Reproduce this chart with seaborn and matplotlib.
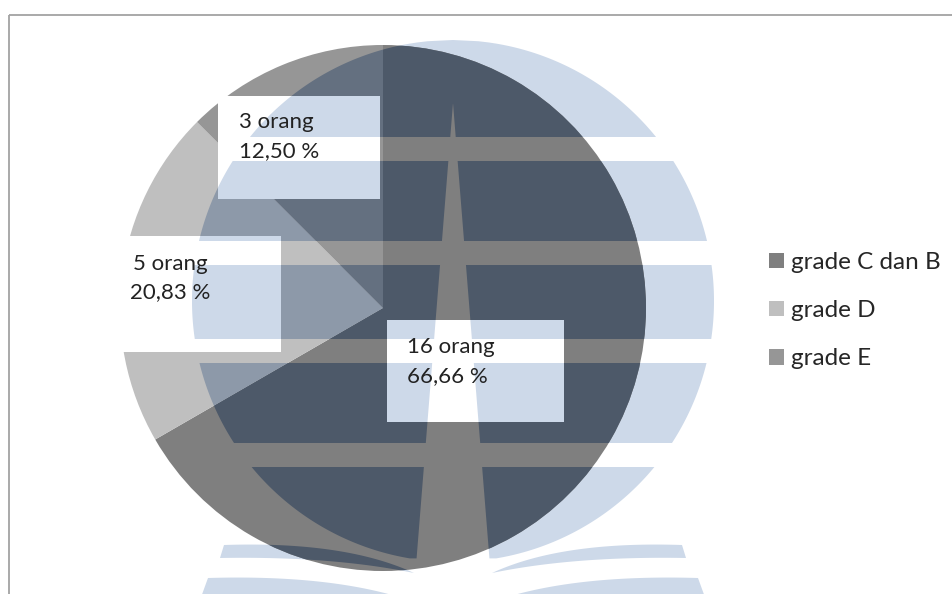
import numpy as np
import matplotlib
matplotlib.use("Agg")
import matplotlib.pyplot as plt
from matplotlib.patches import Polygon, Rectangle
import seaborn as sns

# ---- data -------------------------------------------------------------
grades = ["grade C dan B", "grade D", "grade E"]
persons = [16, 5, 3]
percent = [66.66, 20.83, 12.50]
slice_colors = ["#7f7f7f", "#bfbfbf", "#969696"]

# ---- canvas (pixel-based coordinates, y grows downward) --------------
W, H = 952, 594
sns.set_theme(style="white")
plt.rcParams["font.family"] = ["Lato", "DejaVu Sans"]
palette = sns.color_palette(slice_colors)

fig = plt.figure(figsize=(W / 100, H / 100), dpi=100)
ax = fig.add_axes([0, 0, 1, 1])

# pie, starting at 12 o'clock and running clockwise on screen
wedges, _ = ax.pie(percent, colors=palette, startangle=-90, counterclock=True,
                   center=(383, 308), radius=263,
                   wedgeprops=dict(linewidth=0, zorder=2))
ax.set_xlim(0, W)
ax.set_ylim(H, 0)
ax.set_axis_off()

# chart-area frame
ax.plot([9, 9], [H, 15], color="#a3a3a3", lw=1.3, zorder=0.5, solid_capstyle="butt")
ax.plot([9, W], [15, 15], color="#a3a3a3", lw=1.3, zorder=0.5, solid_capstyle="butt")

# ---- background emblem (globe with bands, spire and open book) --------
EMB_CX, EMB_CY, EMB_R = 453, 301, 261
APEX_Y, SPIRE_K = 103, 0.08
band_rows = [(EMB_CY - EMB_R, 137), (161, 241), (265, 339), (363, 443), (467, EMB_CY + EMB_R)]


def band_polys(y0, y1):
    ys = np.linspace(y0, y1, 80)
    half = np.sqrt(np.clip(EMB_R ** 2 - (ys - EMB_CY) ** 2, 0, None))
    xl, xr = EMB_CX - half, EMB_CX + half
    w = np.clip(SPIRE_K * (ys - APEX_Y), 0, None)
    sl, sr = EMB_CX - w, EMB_CX + w
    if y0 < APEX_Y:
        m = ys >= APEX_Y
        pts = list(zip(xl, ys)) + list(zip(sl[m][::-1], ys[m][::-1])) \
            + list(zip(sr[m], ys[m])) + list(zip(xr[::-1], ys[::-1]))
        return [np.array(pts)]
    keep = xl < sl
    ys, xl, xr, sl, sr = ys[keep], xl[keep], xr[keep], sl[keep], sr[keep]
    left = list(zip(xl, ys)) + list(zip(sl[::-1], ys[::-1]))
    right = list(zip(sr, ys)) + list(zip(xr[::-1], ys[::-1]))
    return [np.array(left), np.array(right)]


def qbez(p0, c, p2, n=50):
    t = np.linspace(0, 1, n)[:, None]
    p0, c, p2 = map(np.asarray, (p0, c, p2))
    return (1 - t) ** 2 * p0 + 2 * (1 - t) * t * c + t ** 2 * p2


def mirrored(poly):
    out = poly.copy()
    out[:, 0] = 2 * EMB_CX - out[:, 0]
    return out


emblem = []
for y0, y1 in band_rows:
    emblem += band_polys(y0, y1)

page_top = np.vstack([qbez((224, 545), (345, 541), (414, 573)),
                      qbez((220, 558), (332, 556), (414, 573))[::-1]])
page_low = np.vstack([qbez((208, 578), (345, 574), (425, 606)),
                      qbez((200, 600), (330, 596), (425, 606))[::-1]])
for pg in (page_top, page_low):
    emblem += [pg, mirrored(pg)]

TINT = np.array([205, 217, 233]) / 255.0


def shade(rgb):
    # burn the emblem tint into an underlying colour
    return tuple(np.clip(np.asarray(rgb) + TINT - 1.0, 0, 1))


def draw_emblem(color, clip=None, z=1.0):
    for pts in emblem:
        p = Polygon(pts, closed=True, facecolor=color, edgecolor="none",
                    linewidth=0, zorder=z)
        ax.add_patch(p)
        if clip is not None:
            p.set_clip_path(clip)


draw_emblem(tuple(TINT), z=1)
for wedge, col in zip(wedges, palette):
    draw_emblem(shade(col), clip=wedge, z=3)

# ---- data labels ------------------------------------------------------
label_boxes = [  # (x0, y0, x1, y1), text x, alignment, baselines
    ((387, 320, 564, 422), 407, "left", (353, 382)),
    ((100, 236, 281, 352), 170, "center", (270, 298)),
    ((218, 96, 380, 199), 239, "left", (128, 157)),
]
for (box, tx, ha, (b1, b2)), n, pct in zip(label_boxes, persons, percent):
    x0, y0, x1, y1 = box
    rect = Rectangle((x0, y0), x1 - x0, y1 - y0, facecolor="white",
                     edgecolor="none", zorder=4)
    ax.add_patch(rect)
    draw_emblem(tuple(TINT), clip=rect, z=5)
    ax.text(tx, b1, f"{n} orang", ha=ha, va="baseline", fontsize=16,
            color="#222222", zorder=6)
    ax.text(tx, b2, f"{pct:.2f} %".replace(".", ","), ha=ha, va="baseline",
            fontsize=16, color="#222222", zorder=6)

# ---- legend -----------------------------------------------------------
handles = [Rectangle((0, 0), 1, 1, facecolor=c, edgecolor="none") for c in palette]
ax.legend(handles, grades, loc="upper left",
          bbox_to_anchor=(769 / W, 1 - 252 / H), bbox_transform=fig.transFigure,
          frameon=False, fontsize=17.5, handlelength=0.6, handleheight=0.6,
          handletextpad=0.3, labelspacing=1.12, borderpad=0, borderaxespad=0,
          labelcolor="#262626")

fig.savefig("out.png", dpi=100, facecolor="white")
